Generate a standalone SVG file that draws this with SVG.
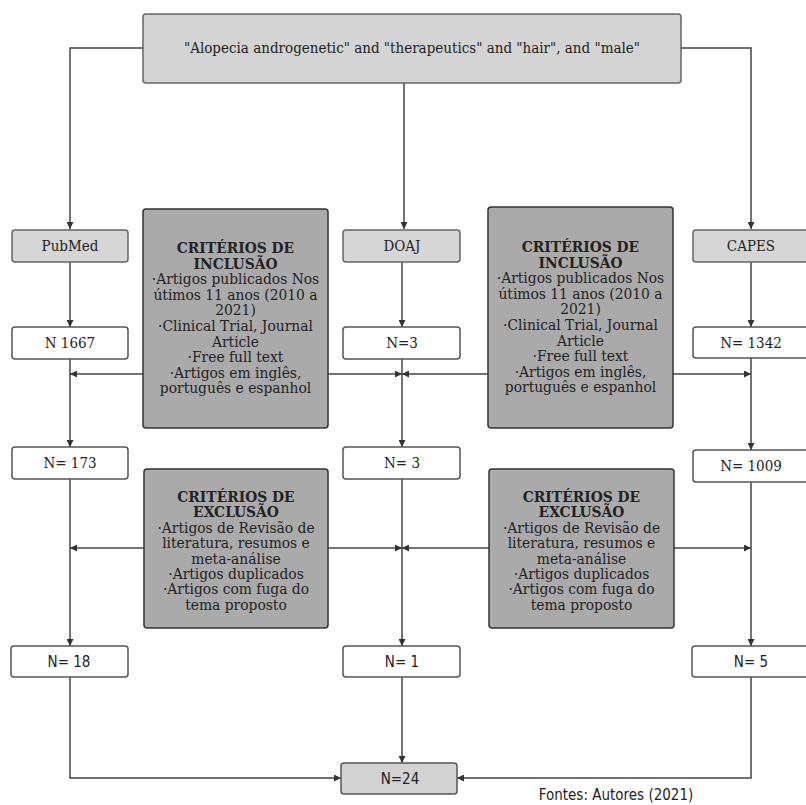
<svg xmlns="http://www.w3.org/2000/svg" width="806" height="805" viewBox="0 0 806 805">
<defs>
<marker id="ah" viewBox="0 0 10 10" refX="10" refY="5" markerWidth="7" markerHeight="7" markerUnits="userSpaceOnUse" orient="auto">
<path d="M0,0 L10,5 L0,10 z" fill="#333"/>
</marker>
<style>
.txt{font-family:"DejaVu Serif Condensed","DejaVu Serif","Liberation Serif",serif;font-size:15px;fill:#222;text-anchor:middle}
.crt{font-size:15.4px}
.b{font-weight:bold}
.sans{font-family:"DejaVu Sans Condensed","DejaVu Sans","Liberation Sans",sans-serif;font-stretch:condensed;font-size:15px;fill:#222;text-anchor:middle}
.top{fill:#d4d4d4;stroke:#666;stroke-width:1.5}
.src{fill:#d6d6d6;stroke:#666;stroke-width:1.5}
.crit{fill:#aaaaaa;stroke:#333;stroke-width:1.5}
.cnt{fill:#ffffff;stroke:#555;stroke-width:1.5}
.fin{fill:#d2d2d2;stroke:#555;stroke-width:1.5}
.conn path{fill:none;stroke:#444;stroke-width:1.5;marker-end:url(#ah)}
</style>
</defs>
<rect width="806" height="805" fill="#ffffff"/>
<g class="conn">
<path d="M143,48 H70 V229"/>
<path d="M681,48 H751 V229"/>
<path d="M404,83 V229"/>
<path d="M70,262 V327"/>
<path d="M70,359 V447"/>
<path d="M70,479 V646"/>
<path d="M70,677 V778 H341"/>
<path d="M402,262 V327"/>
<path d="M402,359 V447"/>
<path d="M402,479 V646"/>
<path d="M402,677 V763"/>
<path d="M751,262 V327"/>
<path d="M751,358 V450"/>
<path d="M751,482 V646"/>
<path d="M751,677 V778 H457"/>
<path d="M143,374 H70"/>
<path d="M328,374 H402"/>
<path d="M488,374 H402"/>
<path d="M673,374 H751"/>
<path d="M144,548 H70"/>
<path d="M328,548 H402"/>
<path d="M489,548 H402"/>
<path d="M674,548 H751"/>
</g>
<g id="query">
<rect class="top" x="143" y="14" width="538" height="69" rx="3"/>
<text class="txt" x="412" y="53">"Alopecia androgenetic" and "therapeutics" and "hair", and "male"</text>
</g>
<g id="pubmed">
<rect class="src" x="12" y="230" width="116" height="32" rx="3"/>
<text class="txt" x="70" y="251">PubMed</text>
</g>
<g id="doaj">
<rect class="src" x="343" y="230" width="117" height="32" rx="3"/>
<text class="txt" x="402" y="251">DOAJ</text>
</g>
<g id="capes">
<rect class="src" x="693" y="230" width="117" height="32" rx="3"/>
<text class="txt" x="751" y="251">CAPES</text>
</g>
<g id="incl-left">
<rect class="crit" x="143" y="209" width="185" height="219" rx="3"/>
<text class="txt crt" x="235.5" y="253"><tspan class="b" x="235.5">CRITÉRIOS DE</tspan><tspan class="b" x="235.5" dy="15.6">INCLUSÃO</tspan><tspan x="235.5" dy="15.6">·Artigos publicados Nos</tspan><tspan x="235.5" dy="15.6">útimos 11 anos (2010 a</tspan><tspan x="235.5" dy="15.6">2021)</tspan><tspan x="235.5" dy="15.6">·Clinical Trial, Journal</tspan><tspan x="235.5" dy="15.6">Article</tspan><tspan x="235.5" dy="15.6">·Free full text</tspan><tspan x="235.5" dy="15.6">·Artigos em inglês,</tspan><tspan x="235.5" dy="15.6">português e espanhol</tspan></text>
</g>
<g id="incl-right">
<rect class="crit" x="488" y="207" width="185" height="221" rx="3"/>
<text class="txt crt" x="580.5" y="252"><tspan class="b" x="580.5">CRITÉRIOS DE</tspan><tspan class="b" x="580.5" dy="15.6">INCLUSÃO</tspan><tspan x="580.5" dy="15.6">·Artigos publicados Nos</tspan><tspan x="580.5" dy="15.6">útimos 11 anos (2010 a</tspan><tspan x="580.5" dy="15.6">2021)</tspan><tspan x="580.5" dy="15.6">·Clinical Trial, Journal</tspan><tspan x="580.5" dy="15.6">Article</tspan><tspan x="580.5" dy="15.6">·Free full text</tspan><tspan x="580.5" dy="15.6">·Artigos em inglês,</tspan><tspan x="580.5" dy="15.6">português e espanhol</tspan></text>
</g>
<g id="n1667">
<rect class="cnt" x="12" y="327" width="116" height="32" rx="3"/>
<text class="txt" x="70" y="348">N 1667</text>
</g>
<g id="n3a">
<rect class="cnt" x="343" y="327" width="117" height="32" rx="3"/>
<text class="txt" x="402" y="348">N=3</text>
</g>
<g id="n1342">
<rect class="cnt" x="693" y="327" width="117" height="31" rx="3"/>
<text class="txt" x="751" y="348">N= 1342</text>
</g>
<g id="n173">
<rect class="cnt" x="12" y="447" width="116" height="32" rx="3"/>
<text class="txt" x="70" y="468">N= 173</text>
</g>
<g id="n3b">
<rect class="cnt" x="343" y="447" width="117" height="32" rx="3"/>
<text class="txt" x="402" y="468">N= 3</text>
</g>
<g id="n1009">
<rect class="cnt" x="693" y="450" width="117" height="32" rx="3"/>
<text class="txt" x="751" y="471">N= 1009</text>
</g>
<g id="excl-left">
<rect class="crit" x="144" y="469" width="184" height="159" rx="3"/>
<text class="txt crt" x="236" y="502"><tspan class="b" x="236">CRITÉRIOS DE</tspan><tspan class="b" x="236" dy="15.4">EXCLUSÃO</tspan><tspan x="236" dy="15.4">·Artigos de Revisão de</tspan><tspan x="236" dy="15.4">literatura, resumos e</tspan><tspan x="236" dy="15.4">meta-análise</tspan><tspan x="236" dy="15.4">·Artigos duplicados</tspan><tspan x="236" dy="15.4">·Artigos com fuga do</tspan><tspan x="236" dy="15.4">tema proposto</tspan></text>
</g>
<g id="excl-right">
<rect class="crit" x="489" y="469" width="185" height="159" rx="3"/>
<text class="txt crt" x="581.5" y="502"><tspan class="b" x="581.5">CRITÉRIOS DE</tspan><tspan class="b" x="581.5" dy="15.4">EXCLUSÃO</tspan><tspan x="581.5" dy="15.4">·Artigos de Revisão de</tspan><tspan x="581.5" dy="15.4">literatura, resumos e</tspan><tspan x="581.5" dy="15.4">meta-análise</tspan><tspan x="581.5" dy="15.4">·Artigos duplicados</tspan><tspan x="581.5" dy="15.4">·Artigos com fuga do</tspan><tspan x="581.5" dy="15.4">tema proposto</tspan></text>
</g>
<g id="n18">
<rect class="cnt" x="11" y="646" width="117" height="31" rx="3"/>
<text class="sans" x="69" y="667">N= 18</text>
</g>
<g id="n1">
<rect class="cnt" x="343" y="646" width="117" height="31" rx="3"/>
<text class="sans" x="402" y="667">N= 1</text>
</g>
<g id="n5">
<rect class="cnt" x="692" y="646" width="118" height="31" rx="3"/>
<text class="sans" x="751" y="667">N= 5</text>
</g>
<g id="n24">
<rect class="fin" x="341" y="763" width="116" height="31" rx="3"/>
<text class="sans" x="400" y="784">N=24</text>
</g>
<text class="sans" x="616" y="800">Fontes: Autores (2021)</text>
</svg>
